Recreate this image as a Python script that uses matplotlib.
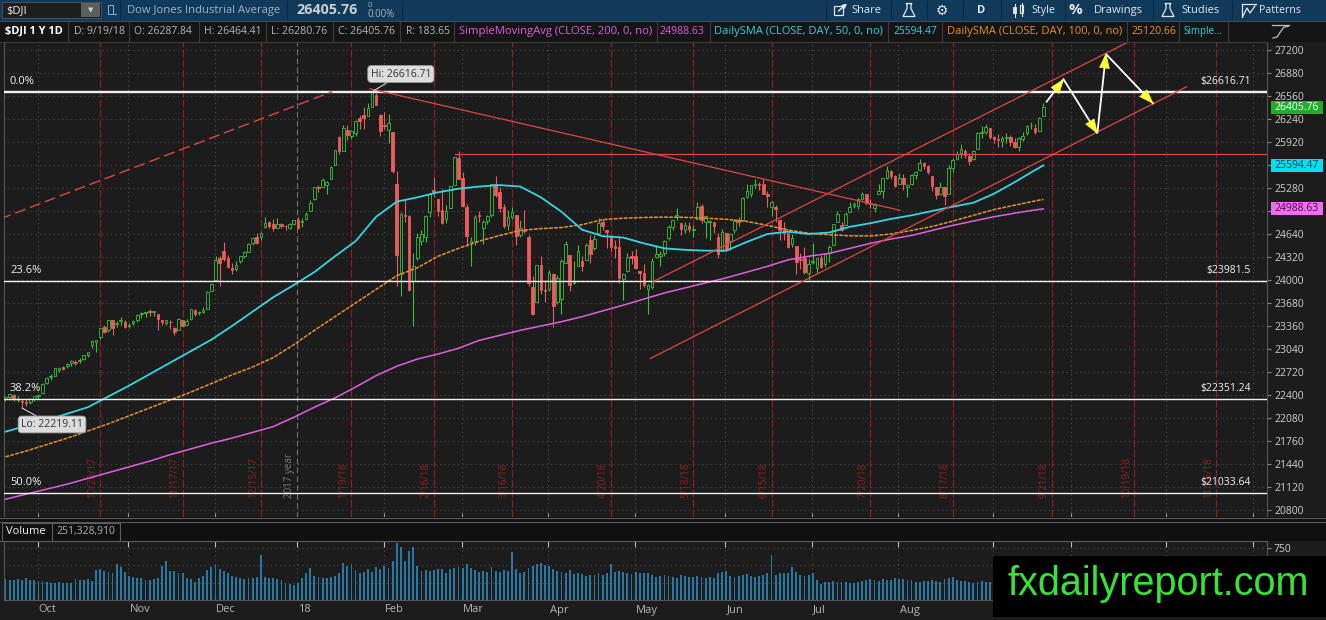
import matplotlib
matplotlib.use('Agg')
import matplotlib.pyplot as plt
import matplotlib.transforms as mtransforms
from matplotlib.patches import Rectangle, Polygon
import numpy as np

# ---------------- data ----------------
# trading-day index 0 = 9/19/17 ... 252 = 9/19/18
opens = (
 [22340, 22370, 22400, 22330, 22320, 22300, 22300, 22340, 22380] +
 [22423, 22570, 22650, 22670, 22750, 22790, 22800, 22840, 22860, 22870, 22900, 22960, 23100, 23140, 23200, 23340, 23300, 23440, 23390, 23430, 23420, 23360] +
 [23400, 23440, 23520, 23540, 23560, 23550, 23520, 23440, 23400, 23420, 23330, 23300, 23440, 23370, 23460, 23580, 23540, 23560, 23600, 23850, 24000] +
 [24300, 24400, 24300, 24160, 24150, 24260, 24330, 24390, 24520, 24600, 24600, 24740, 24800, 24780, 24720, 24780, 24750, 24730, 24780, 24840] +
 [24810, 24850, 24960, 25120, 25300, 25300, 25320, 25400, 25600, 25990, 25800, 26080, 26000, 26050, 26250, 26300, 26280, 26410, 26580, 26300, 26150] +
 [26080, 26060, 25340, 24090, 24900, 24890, 23990, 24300, 24540, 24600, 24950, 25250, 25120, 24970, 24850, 25000, 25320, 25700, 25420] +
 [25020, 24520, 24540, 24900, 24720, 24820, 24900, 25340, 25230, 25020, 24760, 24880, 24900, 24620, 24700, 24600, 23900, 23700, 24210, 23850, 23870] +
 [24080, 23700, 23740, 24240, 24350, 23960, 24200, 24270, 24280, 24550, 24440, 24660, 24800, 24690, 24610, 24470, 24460, 24010, 24120, 24340, 24330] +
 [24120, 24100, 23880, 23900, 24320, 24340, 24370, 24590, 24740, 24880, 24790, 24690, 24750, 24690, 24850, 25030, 24800, 24810, 24800, 24600, 24400, 24650] +
 [24540, 24700, 24830, 24830, 25150, 25200, 25320, 25330, 25340, 25200, 25020, 25020, 24840, 24730, 24660, 24500, 24470, 24290, 24300, 24100, 24250] +
 [24160, 24310, 24220, 24370, 24480, 24800, 24770, 24760, 24940, 25030, 25030, 25120, 25190, 25060, 25000, 25200, 25240, 25420, 25520, 25450, 25330] +
 [25420, 25290, 25340, 25460, 25530, 25630, 25580, 25440, 25300, 25200, 25300, 25200, 25560, 25680, 25760, 25800, 25730, 25680, 25820, 26050, 26060, 26110, 25990] +
 [25960, 25940, 25980, 25990, 25920, 25850, 25960, 26050, 26150, 26120, 26070, 26288]
)
highs = (
 [22390, 22420, 22410, 22380, 22350, 22340, 22360, 22390, 22410] +
 [22560, 22650, 22690, 22780, 22790, 22800, 22840, 22880, 22880, 22910, 22960, 23000, 23160, 23170, 23330, 23370, 23450, 23440, 23430, 23480, 23440, 23400] +
 [23450, 23530, 23550, 23560, 23600, 23570, 23520, 23450, 23450, 23440, 23350, 23470, 23450, 23460, 23600, 23600, 23570, 23620, 23840, 23960, 24330] +
 [24330, 24530, 24350, 24230, 24260, 24340, 24400, 24520, 24600, 24650, 24670, 24880, 24820, 24850, 24860, 24790, 24770, 24790, 24840, 24870] +
 [24860, 24940, 25110, 25300, 25320, 25420, 25380, 25580, 25810, 26000, 26150, 26150, 26080, 26220, 26300, 26400, 26460, 26617, 26600, 26310, 26340] +
 [26310, 26060, 25520, 24950, 25130, 24900, 24380, 24650, 24700, 24900, 25200, 25430, 25120, 25260, 25050, 25310, 25710, 25800, 25500] +
 [25060, 24600, 24910, 24960, 24830, 24910, 25340, 25450, 25300, 25060, 24970, 25020, 24900, 24830, 24980, 24620, 24050, 24210, 24330, 24000, 24140] +
 [24100, 24070, 24290, 24540, 24350, 24270, 24480, 24330, 24520, 24630, 24630, 24860, 24850, 24700, 24630, 24560, 24610, 24100, 24380, 24400, 24430] +
 [24120, 24220, 23950, 24300, 24480, 24400, 24550, 24770, 24840, 25000, 24790, 24800, 24800, 24760, 25090, 25060, 24890, 24830, 24810, 24660, 24710, 24660] +
 [24660, 24850, 24870, 25150, 25330, 25320, 25400, 25360, 25400, 25240, 25100, 25050, 24850, 24800, 24660, 24640, 24470, 24380, 24460, 24290, 24510] +
 [24310, 24350, 24370, 24490, 24780, 24960, 24800, 24940, 25080, 25080, 25140, 25220, 25190, 25120, 25070, 25340, 25420, 25580, 25530, 25460, 25490] +
 [25480, 25340, 25480, 25520, 25690, 25640, 25600, 25440, 25300, 25370, 25300, 25600, 25700, 25790, 25890, 25820, 25770, 25810, 26060, 26140, 26170, 26120, 26010] +
 [26030, 26010, 26050, 26020, 25970, 25990, 26060, 26160, 26200, 26170, 26270, 26464]
)
lows = (
 [22320, 22330, 22320, 22300, 22219, 22250, 22270, 22320, 22350] +
 [22420, 22550, 22610, 22660, 22720, 22750, 22770, 22810, 22820, 22850, 22880, 22930, 23060, 23000, 23180, 23260, 23280, 23240, 23350, 23380, 23330, 23330] +
 [23380, 23420, 23470, 23480, 23500, 23500, 23300, 23380, 23380, 23320, 23240, 23300, 23350, 23370, 23450, 23500, 23510, 23540, 23590, 23840, 23990] +
 [23920, 24260, 24160, 24080, 24130, 24240, 24310, 24390, 24480, 24500, 24560, 24730, 24720, 24680, 24720, 24720, 24690, 24710, 24760, 24710] +
 [24740, 24830, 24960, 25110, 25220, 25300, 25200, 25400, 25600, 25750, 25800, 25950, 25960, 26000, 26100, 26100, 26280, 26410, 26430, 26000, 26100] +
 [25900, 25490, 23920, 23780, 24800, 23850, 23360, 24280, 24480, 24530, 24870, 25150, 24890, 24780, 24790, 25000, 25320, 25400, 25020] +
 [24470, 24200, 24480, 24800, 24500, 24780, 24880, 25150, 24950, 24720, 24700, 24850, 24490, 24600, 24660, 23920, 23510, 23700, 23800, 23700, 23850] +
 [23340, 23660, 23520, 24230, 23850, 23940, 24200, 24120, 24280, 24230, 24420, 24660, 24700, 24450, 24400, 24300, 23960, 23720, 24110, 24220, 24150] +
 [23880, 23900, 23530, 23880, 24300, 24200, 24330, 24560, 24700, 24840, 24630, 24650, 24670, 24600, 24850, 24790, 24580, 24550, 24650, 24300, 24400, 24400] +
 [24420, 24660, 24750, 24820, 25140, 25160, 25280, 25250, 25190, 25010, 24890, 24800, 24550, 24560, 24440, 24460, 24080, 24150, 24080, 24000, 24220] +
 [24080, 24170, 24180, 24250, 24480, 24800, 24680, 24760, 24940, 25000, 24990, 25110, 25040, 25000, 24950, 25190, 25140, 25410, 25400, 25290, 25330] +
 [25250, 25160, 25320, 25400, 25520, 25540, 25480, 25240, 25120, 25180, 25050, 25200, 25500, 25670, 25700, 25700, 25600, 25670, 25820, 25970, 26030, 25960, 25900] +
 [25850, 25850, 25900, 25870, 25830, 25800, 25940, 26020, 26100, 26030, 26070, 26281]
)
closes = (
 [22370, 22413, 22359, 22350, 22296, 22284, 22341, 22381, 22405] +
 [22558, 22642, 22662, 22775, 22774, 22761, 22831, 22873, 22841, 22872, 22957, 22997, 23158, 23163, 23329, 23274, 23442, 23329, 23401, 23434, 23349, 23377] +
 [23435, 23516, 23539, 23548, 23557, 23563, 23462, 23422, 23440, 23409, 23271, 23458, 23358, 23430, 23591, 23526, 23558, 23581, 23837, 23941, 24272] +
 [24232, 24290, 24181, 24141, 24211, 24329, 24386, 24505, 24585, 24509, 24652, 24792, 24755, 24727, 24782, 24754, 24746, 24774, 24838, 24719] +
 [24824, 24923, 25075, 25296, 25283, 25386, 25369, 25575, 25803, 25793, 26116, 26018, 26072, 26215, 26211, 26252, 26393, 26617, 26439, 26077, 26149] +
 [26187, 25521, 24346, 24913, 24893, 23860, 24191, 24601, 24640, 24893, 25200, 25219, 24965, 24798, 24962, 25310, 25709, 25410, 25029] +
 [24609, 24538, 24875, 24884, 24801, 24895, 25336, 25179, 25007, 24758, 24874, 24947, 24611, 24727, 24682, 23958, 23533, 24203, 23858, 23848, 24103] +
 [23644, 24033, 24264, 24505, 23933, 23979, 24408, 24189, 24483, 24360, 24573, 24787, 24748, 24665, 24463, 24449, 24024, 24084, 24322, 24311, 24163] +
 [24099, 23925, 23930, 24263, 24357, 24360, 24543, 24740, 24831, 24899, 24706, 24769, 24714, 24715, 25013, 24834, 24887, 24812, 24753, 24361, 24668, 24416] +
 [24635, 24814, 24800, 25146, 25241, 25317, 25322, 25321, 25201, 25175, 25090, 24987, 24700, 24658, 24462, 24581, 24253, 24283, 24118, 24216, 24271] +
 [24307, 24175, 24357, 24456, 24777, 24920, 24700, 24925, 25019, 25064, 25120, 25199, 25065, 25058, 25044, 25242, 25414, 25527, 25451, 25307, 25415] +
 [25334, 25326, 25463, 25502, 25629, 25584, 25509, 25313, 25188, 25300, 25162, 25559, 25669, 25759, 25822, 25734, 25657, 25790, 26050, 26064, 26125, 25987, 25965] +
 [25952, 25975, 25996, 25917, 25857, 25971, 25999, 26146, 26155, 26062, 26247, 26406]
)
volumes_m = (
 [300, 290, 290, 300, 290, 310, 280, 280, 270] +
 [270, 260, 250, 250, 260, 250, 240, 250, 300, 290, 290, 300, 270, 430, 450, 420, 400, 380, 520, 470, 400, 350] +
 [330, 310, 320, 290, 280, 300, 320, 480, 560, 420, 420, 390, 380, 320, 300, 260, 310, 340, 430, 470, 500] +
 [450, 420, 380, 340, 330, 310, 300, 320, 310, 330, 640, 330, 320, 310, 300, 280, 240, 230, 220, 250] +
 [310, 380, 460, 350, 330, 320, 320, 330, 340, 390, 530, 480, 520, 430, 380, 400, 450, 400, 470, 440, 490] +
 [460, 560, 820, 760, 560, 700, 760, 480, 420, 430, 420, 430, 450, 440, 380, 440, 460, 470, 460] +
 [520, 460, 430, 400, 420, 400, 470, 420, 400, 430, 420, 680, 440, 390, 400, 460, 480, 520, 530, 500, 480] +
 [440, 420, 400, 390, 430, 370, 390, 370, 350, 360, 360, 380, 360, 380, 520, 400, 420, 400, 380, 370, 400] +
 [390, 380, 390, 360, 330, 350, 360, 340, 330, 310, 360, 340, 330, 330, 340, 330, 320, 330, 320, 390, 400, 420] +
 [350, 330, 340, 360, 370, 340, 330, 340, 360, 380, 650, 360, 380, 390, 380, 470, 400, 360, 350, 360, 380] +
 [280, 230, 260, 260, 270, 260, 260, 260, 250, 250, 260, 270, 280, 300, 280, 270, 300, 290, 290, 320, 300] +
 [300, 290, 280, 260, 260, 270, 270, 280, 270, 260, 300, 310, 330, 280, 270, 270, 260, 250, 260, 270, 260, 260, 270] +
 [260, 270, 260, 250, 250, 260, 270, 280, 260, 270, 280, 251]
)

# moving averages every 5 sessions
ma_days = [0, 5, 10, 15, 20, 25, 30, 35, 40, 45, 50, 55, 60, 65, 70, 75, 80, 85, 90, 95,
           100, 105, 110, 115, 120, 125, 130, 135, 140, 145, 150, 155, 160, 165, 170, 175,
           180, 185, 190, 195, 200, 205, 210, 215, 220, 225, 230, 235, 240, 245, 250, 252]
sma50 = [21890, 21970, 22050, 22140, 22230, 22380, 22530, 22690, 22850, 23010, 23170, 23360, 23560,
         23760, 23930, 24110, 24330, 24540, 24880, 25090, 25150, 25220, 25270, 25300, 25320, 25300,
         25150, 24950, 24700, 24610, 24590, 24510, 24440, 24420, 24408, 24408, 24530, 24640, 24672,
         24640, 24660, 24740, 24790, 24850, 24900, 24960, 25020, 25075, 25200, 25360, 25530, 25594]
sma100 = [21540, 21620, 21710, 21800, 21900, 22000, 22110, 22220, 22330, 22440, 22560, 22680, 22790,
          22920, 23100, 23300, 23490, 23680, 23870, 24060, 24170, 24330, 24440, 24540, 24620, 24690,
          24715, 24730, 24770, 24840, 24860, 24870, 24875, 24872, 24860, 24845, 24815, 24760, 24695,
          24650, 24630, 24615, 24612, 24640, 24690, 24745, 24820, 24900, 24980, 25040, 25100, 25121]
sma200 = [20950, 21020, 21090, 21160, 21240, 21320, 21400, 21480, 21570, 21650, 21730, 21800, 21880,
          21960, 22090, 22230, 22360, 22510, 22670, 22800, 22900, 22970, 23050, 23160, 23230, 23300,
          23360, 23420, 23490, 23570, 23650, 23735, 23820, 23890, 23960, 24030, 24110, 24190, 24280,
          24330, 24370, 24440, 24510, 24570, 24620, 24690, 24760, 24820, 24880, 24930, 24975, 24989]

month_labels = ['Oct', 'Nov', 'Dec', '18', 'Feb', 'Mar', 'Apr', 'May', 'Jun', 'Jul', 'Aug', 'Sep', 'Oct', 'Nov', 'Dec']
month_first_day = [9, 31, 52, 72, 93, 112, 133, 154, 176, 197, 218, 241, 260, 283, 304]
expiry_labels = ['10/20/17', '11/17/17', '12/15/17', '1/19/18', '2/16/18', '3/16/18', '4/20/18',
                 '5/18/18', '6/15/18', '7/20/18', '8/17/18', '9/21/18', '10/19/18', '11/16/18']
expiry_days = [23, 43, 62, 84, 104, 123, 147, 167, 186, 210, 230, 254, 274, 294]
year_first_day = 72

price_ticks = [20800, 21120, 21440, 21760, 22080, 22400, 22720, 23040, 23360, 23680, 24000, 24320,
               24640, 24960, 25280, 25600, 25920, 26240, 26560, 26880, 27200]
hidden_price_ticks = [24960, 25600]   # covered by the SMA price tags in the chart
volume_ticks = [250, 500, 750]

fib_levels = [26616.71, 23981.5, 22351.24, 21033.64]
fib_names = ['0.0%', '23.6%', '38.2%', '50.0%']
fib_price_labels = ['$26616.71', '$23981.5', '$22351.24', '$21033.64']

# drawings (day index, price)
dash_trend_x, dash_trend_y = [-1.3, 79.3], [24850, 26620]
down_trend_x, down_trend_y = [88.5, 217.2], [26660, 24970]
resist_x, resist_y = [109.2, 306.3], [25750, 25750]
chan_up_x, chan_up_y = [157.2, 273.6], [23976, 27339]
chan_lo_x, chan_lo_y = [156.5, 286.8], [22906, 26689]
path_x = [252.8, 256.9, 265.1, 267.2, 278.6]
path_y = [26481, 26792, 26041, 27144, 26458]

n = len(closes)
assert len(opens) == n and len(highs) == n and len(lows) == n and len(volumes_m) == n
assert len(sma50) == len(ma_days) == len(sma100) == len(sma200)

# ---------------- figure ----------------
W, H = 1326, 620
BG = '#1c1c1c'
plt.rcParams['font.family'] = ['Open Sans', 'DejaVu Sans']
fig = plt.figure(figsize=(W / 100, H / 100), dpi=100)
fig.patch.set_facecolor(BG)


def fr(x0, y0, x1, y1):
    return [x0 / W, 1 - y1 / H, (x1 - x0) / W, (y1 - y0) / H]


XL = (-0.36, 306.3)
YL = (20702.6, 27311.3)
GRID = '#4d4d4d'
DOT = (0, (1, 3))
month_pos = [m - 1.2 for m in month_first_day]

ax = fig.add_axes(fr(4, 42, 1267, 517))
ax.set_facecolor(BG)
ax.set_xlim(*XL)
ax.set_ylim(*YL)
ax.set_yticks(price_ticks)
ax.set_yticklabels(['' if t in hidden_price_ticks else str(t) for t in price_ticks])
ax.set_xticks(month_pos)
ax.grid(True, color=GRID, linestyle=DOT, linewidth=0.8)
ax.yaxis.tick_right()
ax.tick_params(axis='y', labelsize=7.5, labelcolor='#cfcfcf', color='#8a8a8a', length=3, width=0.8, pad=2)
ax.tick_params(axis='x', labelbottom=False, direction='in', length=3, color='#9a9a9a')
for s in ['top', 'bottom']:
    ax.spines[s].set_visible(False)
for s in ['left', 'right']:
    ax.spines[s].set_color('#555555')
    ax.spines[s].set_linewidth(0.8)

# expiration / year markers
for d, lab in zip(expiry_days, expiry_labels):
    ax.axvline(d, color='#951d1d', lw=0.8, ls=(0, (7, 2)), zorder=1.6)
    ax.annotate(lab, xy=(d, 20960), xytext=(-1.5, 0), textcoords='offset points', rotation=90,
                ha='right', va='bottom', fontsize=7, color='#8f1f1f', zorder=1.7)
yb = year_first_day - 1.2
ax.axvline(yb, color='#6c6c6c', lw=0.8, ls=(0, (5, 3)), zorder=1.6)
ax.annotate('2017 year', xy=(yb, 20960), xytext=(-1.5, 0), textcoords='offset points', rotation=90,
            ha='right', va='bottom', fontsize=7, color='#7a7a7a', zorder=1.7)

# candles
idx = np.arange(n)
o = np.array(opens, float); h = np.array(highs, float)
l = np.array(lows, float); c = np.array(closes, float)
up = c >= o
GREEN, RED = '#3cbf3c', '#ea5c5e'
cols = np.where(up, GREEN, RED)
faces = np.where(up, BG, RED)
blo = np.minimum(o, c); bhi = np.maximum(o, c)
bh = np.maximum(bhi - blo, 12)
ax.vlines(idx, l, blo, colors=cols, lw=0.8, zorder=3)
ax.vlines(idx, bhi, h, colors=cols, lw=0.8, zorder=3)
ax.bar(idx, bh, bottom=blo, width=0.64, color=faces, edgecolor=cols, linewidth=0.6, zorder=4)

# moving averages
ax.plot(ma_days, sma200, color='#e060e0', lw=1.1, zorder=5)
ax.plot(ma_days, sma100, color='#e8922c', lw=1.1, ls=(0, (2.5, 0.8)), zorder=5)
ax.plot(ma_days, sma50, color='#33d6e2', lw=1.3, zorder=5)

# fib levels
ytr = mtransforms.blended_transform_factory(ax.transAxes, ax.transData)
for k, (lv, nm, plab) in enumerate(zip(fib_levels, fib_names, fib_price_labels)):
    ax.axhline(lv, color='#f2f2f2', lw=1.7 if k == 0 else 1.0, zorder=6)
    ax.annotate(nm, xy=(6 / 1263, lv), xycoords=ytr, xytext=(0, 3.5), textcoords='offset points',
                ha='left', va='bottom', fontsize=8, color='#f0f0f0', zorder=7)
    ax.annotate(plab, xy=(1247 / 1263, lv), xycoords=ytr, xytext=(0, 3.5), textcoords='offset points',
                ha='right', va='bottom', fontsize=7.5, color='#f0f0f0', zorder=7)

# trend lines
TL = '#e04646'
ax.plot(dash_trend_x, dash_trend_y, color=TL, lw=1.0, ls=(0, (8, 3.5)), zorder=6)
ax.plot(down_trend_x, down_trend_y, color=TL, lw=0.9, zorder=6)
ax.plot(resist_x, resist_y, color=TL, lw=0.9, zorder=6)
ax.plot(chan_up_x, chan_up_y, color=TL, lw=0.9, zorder=6)
ax.plot(chan_lo_x, chan_lo_y, color=TL, lw=0.9, zorder=6)

# projected path with yellow arrow heads
ax.plot(path_x, path_y, color='white', lw=1.3, zorder=7, solid_joinstyle='miter')


def arrow_head(x0, y0, x1, y1, L=14.0, Wd=10.0, color='#ffff3a'):
    T = ax.transData
    p0 = T.transform((x0, y0)); p1 = T.transform((x1, y1))
    d = p1 - p0
    u = d / np.hypot(*d)
    nn = np.array([-u[1], u[0]])
    base = p1 - L * u
    pts = np.array([p1, base + nn * Wd / 2, base - nn * Wd / 2])
    ax.add_patch(Polygon(T.inverted().transform(pts), closed=True, fc=color, ec=color, lw=0.4, zorder=8))


for k in range(len(path_x) - 1):
    arrow_head(path_x[k], path_y[k], path_x[k + 1], path_y[k + 1])

# hi / lo labels
lab_box = dict(boxstyle='round,pad=0.28,rounding_size=0.35', fc='#dcdcdc', ec='#9a9a9a', lw=0.6)
ax.annotate('Hi: 26616.71', xy=(89, 26617), xytext=(96, 26866), ha='center', va='center', fontsize=7.5,
            color='#333333', bbox=lab_box, zorder=9, annotation_clip=False,
            arrowprops=dict(arrowstyle='-', color='#d0d0d0', lw=0.8, shrinkA=0, shrinkB=0))
ax.annotate('Lo: 22219.11', xy=(4, 22219), xytext=(11.3, 21990), ha='center', va='center', fontsize=7.5,
            color='#333333', bbox=lab_box, zorder=9, annotation_clip=False,
            arrowprops=dict(arrowstyle='-', color='#d0d0d0', lw=0.8, shrinkA=0, shrinkB=0))

# price tags on the axis
ppu = (517 - 42) / (YL[1] - YL[0])


def tag(val, s, bg, fg):
    hh = 6.5 / ppu
    x0 = (1270.5 - 4) / 1263
    x1 = (1323 - 4) / 1263
    ax.add_patch(Rectangle((x0, val - hh), x1 - x0, 2 * hh, transform=ytr, fc=bg, ec='none',
                           clip_on=False, zorder=10))
    ax.text((x0 + x1) / 2, val, s, transform=ytr, ha='center', va='center', fontsize=7.5, color=fg,
            clip_on=False, zorder=11)


tag(26405.76, '26405.76', '#1fae2a', '#ffffff')
tag(25594.47, '25594.47', '#00e0ee', '#0d3b55')
tag(24988.63, '24988.63', '#f06cf0', '#4a0f4a')

# ---------------- volume panel ----------------
av = fig.add_axes(fr(4, 541, 1267, 600))
av.set_facecolor(BG)
av.set_xlim(*XL)
av.set_ylim(0, 59 / 0.07)
av.bar(idx, volumes_m, width=0.45, color='#2a78a2', zorder=3)
av.set_yticks(volume_ticks)
av.set_yticklabels(['', '', '750'])   # lower labels sit under the watermark
av.set_xticks(month_pos)
av.grid(True, color=GRID, linestyle=DOT, linewidth=0.8)
av.yaxis.tick_right()
av.tick_params(axis='y', labelsize=7.5, labelcolor='#cfcfcf', color='#8a8a8a', length=3, width=0.8, pad=2)
av.tick_params(axis='x', labelbottom=False, bottom=True, top=True, direction='in', length=4, color='#bdbdbd')
for s in av.spines.values():
    s.set_color('#555555')
    s.set_linewidth(0.8)
xtr = mtransforms.blended_transform_factory(av.transData, av.transAxes)
for mp, ml in zip(month_pos, month_labels):
    av.text(mp + 0.3, -10 / 59, ml, transform=xtr, ha='left', va='center', fontsize=8,
            color='#b4b4b4', clip_on=False)

# ---------------- overlay (header, separators, watermark) ----------------
ov = fig.add_axes([0, 0, 1, 1])
ov.set_xlim(0, W)
ov.set_ylim(H, 0)
ov.axis('off')
ov.patch.set_visible(False)

fits = []


def htext(x, y, s, w, **kw):
    t = ov.text(x, y, s, va='center', ha='left', **kw)
    fits.append((t, w))
    return t


def vsep(x, y0, y1, color):
    ov.plot([x, x], [y0, y1], color=color, lw=0.8)


# panel separators
ov.add_patch(Rectangle((0, 517), W, 24, fc='#101010', ec='none'))
ov.plot([0, W], [517.5, 517.5], color='#5a5a5a', lw=0.8)
ov.plot([0, W], [521.5, 521.5], color='#5a5a5a', lw=0.8)
ov.plot([0, 1267], [541, 541], color='#5a5a5a', lw=0.8)
ov.add_patch(Rectangle((2, 522.5), 118, 18, fc='none', ec='#5c5c5c', lw=0.8))
vsep(52, 522.5, 540.5, '#5c5c5c')
ov.text(6, 531.5, 'Volume', va='center', ha='left', fontsize=8, color='#f2f2f2')
ov.text(56, 531.5, '251,328,910', va='center', ha='left', fontsize=7.5, color='#b0b0b0')

# header row 1
ov.add_patch(Rectangle((0, 0), W, 20.5, fc='#11395a', ec='none'))
ov.add_patch(Rectangle((2, 2), 99, 16, fc='#1e1e1e', ec='#4a5a66', lw=0.6))
ov.add_patch(Rectangle((81, 3), 19, 14, fc='#5e5e5e', ec='none'))
ov.text(90.5, 10, '\u25bc', ha='center', va='center', fontsize=5, color='#cfcfcf', family='DejaVu Sans')
ov.text(6, 10.5, '$DJI', ha='left', va='center', fontsize=8, color='#f0f0f0')
ov.add_patch(Rectangle((108, 5), 5, 9, fc='none', ec='#8fb0cc', lw=0.7))
ov.plot([113, 116], [14, 14], color='#8fb0cc', lw=0.7)
for x in [120, 287, 402, 826, 891, 927, 963, 1001, 1065, 1153, 1232]:
    vsep(x, 1, 19.5, '#0a2a44')
HC = '#e2e8ed'
htext(127, 10.5, 'Dow Jones Industrial Average', 152, fontsize=8.5, color='#9db3c7')
htext(296, 10.5, '26405.76', 61, fontsize=10, color='#c9d1d9', weight='bold')
ov.text(368, 5.5, '0', ha='left', va='center', fontsize=5.5, color='#a3b1bd')
htext(368, 14.5, '0.00%', 27, fontsize=6, color='#a3b1bd')
ov.add_patch(Rectangle((834, 6), 9, 9, fc='none', ec=HC, lw=0.9))
ov.annotate('', xy=(847, 3.5), xytext=(838.5, 11), arrowprops=dict(arrowstyle='-|>', color=HC, lw=1.1,
                                                                   mutation_scale=6, shrinkA=0, shrinkB=0))
htext(851, 10.5, 'Share', 30, fontsize=8.5, color=HC)
for fx in [909, 1168]:
    ov.add_patch(Polygon([(fx - 3, 3.5), (fx + 3, 3.5), (fx + 2, 4.5), (fx + 2, 8.5), (fx + 6, 16.5),
                          (fx - 6, 16.5), (fx - 2, 8.5), (fx - 2, 4.5)], closed=True, fc='none', ec=HC, lw=0.9))
ov.text(942, 10.5, '\u2699', ha='center', va='center', fontsize=10, color=HC, family='DejaVu Sans')
ov.text(981, 10.5, 'D', ha='center', va='center', fontsize=8, color=HC, weight='bold')
ov.plot([1014.5, 1014.5], [4, 17], color=HC, lw=0.8)
ov.add_patch(Rectangle((1013, 7), 3, 6, fc=HC, ec=HC, lw=0.6))
ov.plot([1021.5, 1021.5], [3, 16], color=HC, lw=0.8)
ov.add_patch(Rectangle((1020, 5), 3, 8, fc='none', ec=HC, lw=0.8))
htext(1031, 10.5, 'Style', 24, fontsize=8.5, color=HC)
ov.text(1075, 10.5, '%', ha='center', va='center', fontsize=11, color=HC, weight='bold')
htext(1094, 10.5, 'Drawings', 49, fontsize=8.5, color=HC)
htext(1181, 10.5, 'Studies', 38, fontsize=8.5, color=HC)
ov.plot([1242, 1256], [4, 4], color=HC, lw=0.9)
ov.plot([1243, 1247, 1250, 1255], [16, 8, 13, 6], color=HC, lw=0.9)
ov.plot([1242, 1242], [4, 17], color=HC, lw=0.9)
htext(1259, 10.5, 'Patterns', 42, fontsize=8.5, color=HC)

# header row 2
ov.add_patch(Rectangle((0, 20.5), W, 21.5, fc='#151515', ec='none'))
ov.plot([0, W], [20.8, 20.8], color='#3a4a58', lw=0.8)
ov.plot([0, 1267], [42, 42], color='#3a3a3a', lw=0.8)
GR = '#b4b4b4'
MG, CY, OR = '#e05ce0', '#30d2df', '#e8902a'
cells = [(5, '$DJI 1 Y 1D', 58, '#ffffff', 'bold'),
         (74, 'D: 9/19/18', 51, GR, 'normal'),
         (134, 'O: 26287.84', 58, GR, 'normal'),
         (204, 'H: 26464.41', 58, GR, 'normal'),
         (271, 'L: 26280.76', 57, GR, 'normal'),
         (338, 'C: 26405.76', 57, GR, 'normal'),
         (406, 'R: 183.65', 44, GR, 'normal'),
         (459, 'SimpleMovingAvg (CLOSE, 200, 0, no)', 193, MG, 'normal'),
         (660, '24988.63', 45, MG, 'normal'),
         (714, 'DailySMA (CLOSE, DAY, 50, 0, no)', 169, CY, 'normal'),
         (893, '25594.47', 44, CY, 'normal'),
         (947, 'DailySMA (CLOSE, DAY, 100, 0, no)', 176, OR, 'normal'),
         (1131, '25120.66', 45, OR, 'normal'),
         (1183, 'Simple...', 39, CY, 'normal')]
for x, s, w, col, wt in cells:
    htext(x, 31.5, s, w, fontsize=8, color=col, weight=wt)
for x in [68, 129, 199, 266, 333, 400, 454, 657, 710, 888, 942, 1127, 1179, 1228]:
    vsep(x, 21.5, 41.5, '#3c3c3c')
ov.plot([1272, 1289], [24.5, 24.5], color='#bdbdbd', lw=0.9)
ov.plot([1273, 1277, 1281, 1284, 1288], [38, 37, 31, 27, 26.5], color='#bdbdbd', lw=0.9)

# watermark
ov.add_patch(Rectangle((993, 556), 333, 61, fc='#000000', ec='none', zorder=20))
wt = ov.text(1008, 595, 'fxdailyreport.com', ha='left', va='baseline', fontsize=28.5, color='#36e436',
             family=['Liberation Sans', 'DejaVu Sans'], zorder=21)
fits.append((wt, 302))

# fit header texts to their measured widths
r = fig.canvas.get_renderer()
for t, w in fits:
    bb = t.get_window_extent(renderer=r)
    if bb.width > 0:
        t.set_fontsize(t.get_fontsize() * w / bb.width)

fig.savefig('out.png', dpi=100, facecolor=fig.get_facecolor())
